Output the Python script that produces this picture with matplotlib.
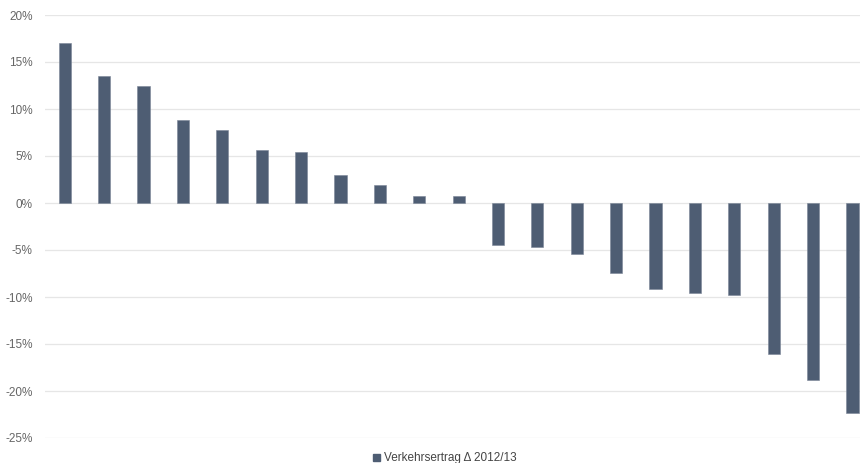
import matplotlib
matplotlib.use("Agg")
import matplotlib.pyplot as plt
from matplotlib.patches import Patch
from matplotlib.ticker import FuncFormatter

# Change in traffic revenue per entity, sorted descending
values = [17.0, 13.5, 12.5, 8.8, 7.8, 5.6, 5.4, 3.0, 1.9, 0.7, 0.7,
          -4.5, -4.7, -5.4, -7.4, -9.2, -9.6, -9.8, -16.1, -18.8, -22.3]
yticks = [20, 15, 10, 5, 0, -5, -10, -15, -20, -25]
series_label = "Verkehrsertrag Δ 2012/13"

bar_color = "#4e5d73"
grid_color = "#e6e6e6"
text_color = "#666666"

plt.rcParams["font.family"] = ["Liberation Sans", "DejaVu Sans"]

fig = plt.figure(figsize=(8.6, 4.63), dpi=100)
ax = fig.add_axes([45 / 860, 25 / 463, 1 - 45 / 860, 423 / 463])

x = list(range(len(values)))
ax.bar(x, values, width=0.31, color=bar_color, edgecolor="#7a8596", linewidth=0.4, zorder=3)

ax.set_ylim(-25, 20)
ax.set_xlim(-0.5, 20.19)
ax.set_yticks(yticks)
ax.yaxis.set_major_formatter(FuncFormatter(lambda v, p: f"{v:.0f}%"))
ax.set_xticks([])
ax.grid(axis="y", color=grid_color, linewidth=0.9, zorder=0)
ax.tick_params(axis="y", length=0, pad=9, labelsize=8.5, labelcolor=text_color)
for s in ax.spines.values():
    s.set_visible(False)

fig.legend(handles=[Patch(color=bar_color, label=series_label)],
           loc="lower center", bbox_to_anchor=(0.517, -0.026), frameon=False,
           handlelength=0.6, handleheight=0.6, handletextpad=0.3,
           fontsize=8.5, labelcolor="#444444")

fig.savefig("out.png", dpi=100)
